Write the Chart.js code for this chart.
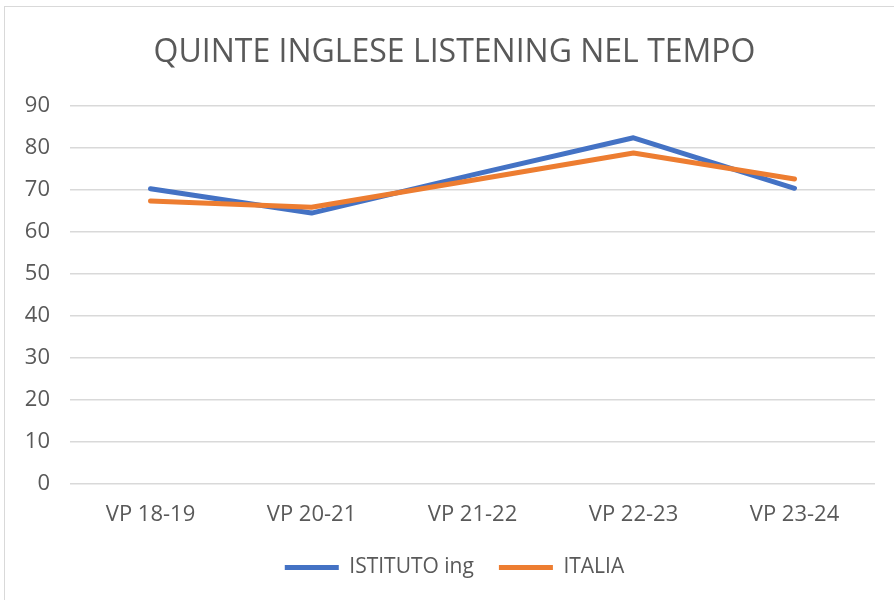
<!DOCTYPE html>
<html>
<head>
<meta charset="utf-8">
<script src="https://cdn.jsdelivr.net/npm/chart.js@4/dist/chart.umd.min.js"></script>
<style>
  html, body { margin: 0; padding: 0; background: #fff; }
  #wrap { position: relative; width: 894px; height: 600px; overflow: hidden; }
  #frame { position: absolute; left: 4px; top: 6px; width: 1000px; height: 700px; border: 1.5px solid #d9d9d9; pointer-events: none; }
</style>
</head>
<body>
<div id="wrap">
  <canvas id="chart" width="894" height="600"></canvas>
  <div id="frame"></div>
</div>
<script>
const labels = ['VP 18-19', 'VP 20-21', 'VP 21-22', 'VP 22-23', 'VP 23-24'];
const istituto = [70.2, 64.4, 73.5, 82.3, 70.3];
const italia = [67.3, 65.8, 72.2, 78.7, 72.5];
const yTicks = [0, 10, 20, 30, 40, 50, 60, 70, 80, 90];

const blue = '#4472c4';
const orange = '#ed7d31';
const text = '#595959';
const font = "'Open Sans', 'Liberation Sans', sans-serif";

// the y labels sit in the left padding, so widen their clip box after layout
const unclipYLabels = {
  id: 'unclipYLabels',
  afterLayout(chart) { chart.scales.y.left = 0; }
};

new Chart(document.getElementById('chart'), {
  type: 'line',
  data: {
    labels: labels,
    datasets: [
      {
        label: 'ISTITUTO ing',
        data: istituto,
        borderColor: blue,
        backgroundColor: blue,
        borderWidth: 5,
        borderCapStyle: 'round',
        borderJoinStyle: 'round',
        pointRadius: 0,
        pointStyle: 'line',
        tension: 0,
        order: 1
      },
      {
        label: 'ITALIA',
        data: italia,
        borderColor: orange,
        backgroundColor: orange,
        borderWidth: 5,
        borderCapStyle: 'round',
        borderJoinStyle: 'round',
        pointRadius: 0,
        pointStyle: 'line',
        tension: 0,
        order: 0
      }
    ]
  },
  plugins: [unclipYLabels],
  options: {
    responsive: false,
    animation: false,
    // wide left padding keeps the title and legend centred like the original
    layout: { padding: { left: 34, right: 19, top: 0, bottom: 12 } },
    plugins: {
      tooltip: { enabled: false },
      title: {
        display: true,
        text: 'QUINTE INGLESE LISTENING NEL TEMPO',
        color: text,
        font: { family: font, size: 32, weight: 'normal' },
        padding: { top: 34, bottom: 33 }
      },
      legend: {
        position: 'bottom',
        labels: {
          usePointStyle: true,
          pointStyleWidth: 54,
          padding: 25,
          color: text,
          font: { family: font, size: 21 },
          sort: (a, b) => a.datasetIndex - b.datasetIndex
        }
      }
    },
    scales: {
      x: {
        offset: true,
        grid: { display: false, drawTicks: false },
        border: { display: false },
        ticks: { color: text, font: { family: font, size: 22 }, padding: 18, maxRotation: 0 },
        afterFit: (scale) => { scale.height = 48; }
      },
      y: {
        min: 0,
        max: 90,
        afterBuildTicks: (scale) => { scale.ticks = yTicks.map(v => ({ value: v })); },
        grid: { color: '#d9d9d9', lineWidth: 1.5, drawTicks: false },
        border: { display: false },
        ticks: { color: text, font: { family: font, size: 22 }, padding: 20 },
        afterFit: (scale) => { scale.width = 36; }
      }
    }
  }
});
</script>
</body>
</html>
